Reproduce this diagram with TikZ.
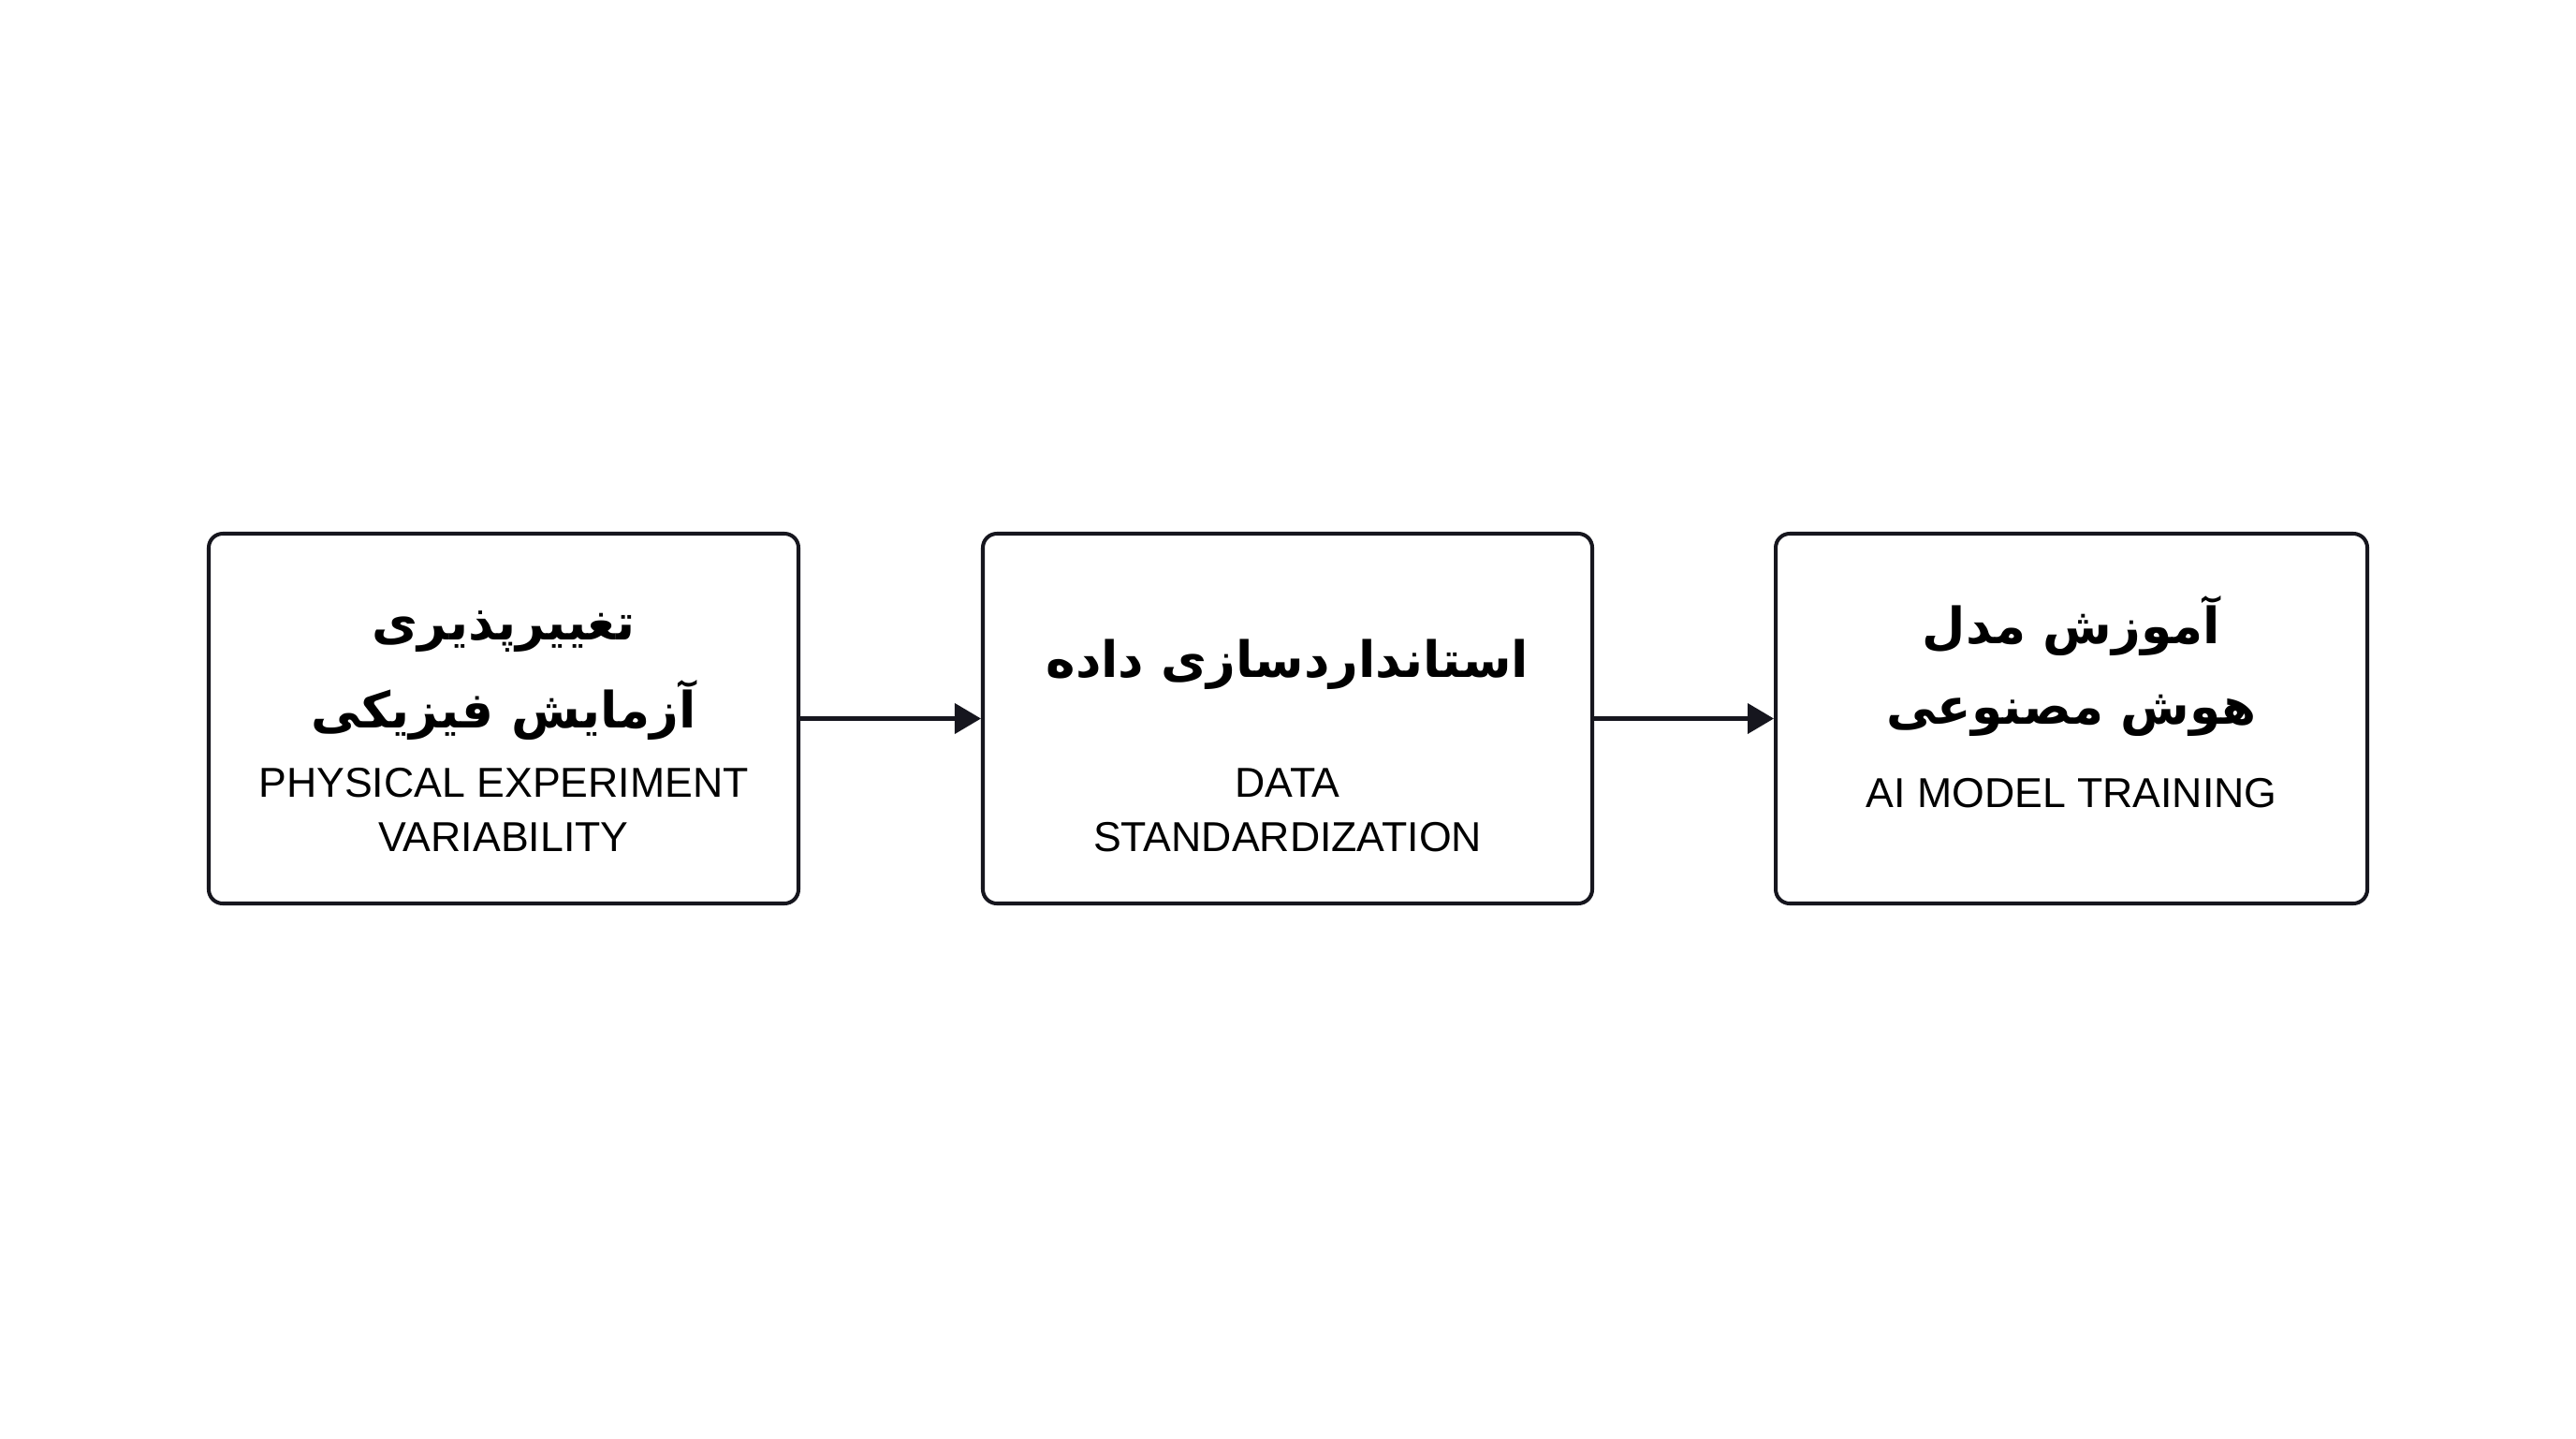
\documentclass[tikz,border=0pt]{standalone}
\usepackage{fontspec}
\setmainfont{Liberation Sans}
\newfontfamily\fafont[Script=Arabic]{DejaVu Sans}
\TeXXeTstate=1
\usetikzlibrary{arrows.meta}

\definecolor{ink}{HTML}{16161E}
\tikzset{
  stagebox/.style={draw=ink, line width=1.15pt, rounded corners=0.15cm, minimum height=3.95cm, inner sep=0pt},
  fatext/.style={anchor=base, text=black, font=\fafont\bfseries\fontsize{15.2}{18}\selectfont},
  entext/.style={anchor=base, text=black, font=\fontsize{12.7}{15}\selectfont},
  flow/.style={draw=ink, line width=1.15pt, -{Triangle[length=0.28cm, width=0.32cm]}}
}

\begin{document}
\begin{tikzpicture}
\useasboundingbox (0,0) rectangle (27.52,-15.36);
\def\fa#1{\beginR #1\endR}

% stages
\node[stagebox, minimum width=6.30cm] (expbox) at (5.38,-7.675) {};
\node[stagebox, minimum width=6.51cm] (stdbox) at (13.755,-7.675) {};
\node[stagebox, minimum width=6.32cm] (aibox) at (22.13,-7.675) {};

\node[fatext] (expfa1) at ([yshift=0.84cm]expbox.center) {\fa{تغییرپذیری}};
\node[fatext] (expfa2) at ([yshift=-0.095cm]expbox.center) {\fa{آزمایش فیزیکی}};
\node[entext] (expen1) at ([yshift=-0.835cm]expbox.center) {PHYSICAL EXPERIMENT};
\node[entext] (expen2) at ([yshift=-1.415cm]expbox.center) {VARIABILITY};

\node[fatext] (stdfa1) at ([yshift=0.445cm]stdbox.center) {\fa{استانداردسازی داده}};
\node[entext] (stden1) at ([yshift=-0.835cm]stdbox.center) {DATA};
\node[entext] (stden2) at ([yshift=-1.415cm]stdbox.center) {STANDARDIZATION};

\node[fatext] (aifa1) at ([yshift=0.8cm]aibox.center) {\fa{آموزش مدل}};
\node[fatext] (aifa2) at ([yshift=-0.055cm]aibox.center) {\fa{هوش مصنوعی}};
\node[entext] (aien1) at ([yshift=-0.945cm]aibox.center) {AI MODEL TRAINING};

% arrows
\draw[flow] (expbox.east) -- (stdbox.west);
\draw[flow] (stdbox.east) -- (aibox.west);
\end{tikzpicture}
\end{document}
